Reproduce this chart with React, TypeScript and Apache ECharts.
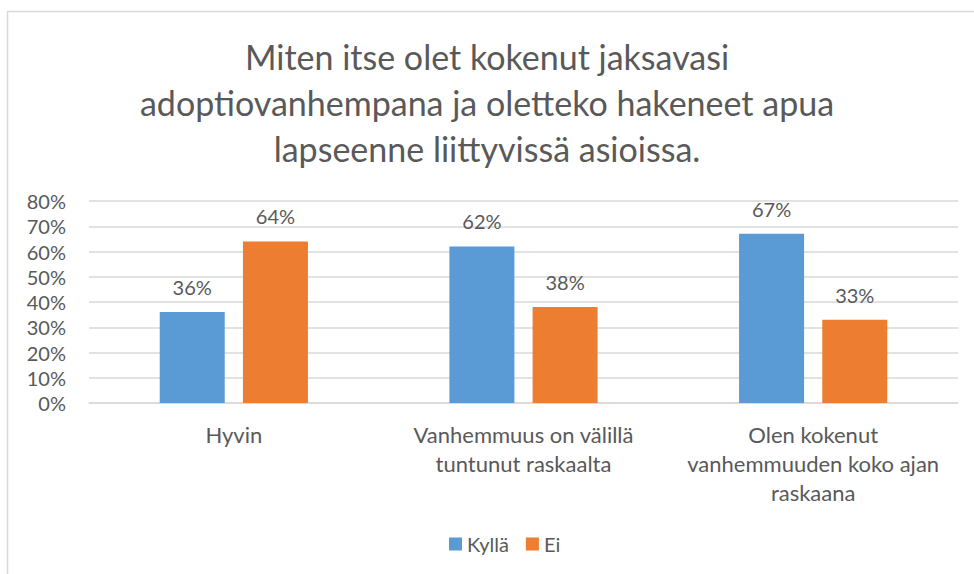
import React, { useEffect, useRef } from "react";
import * as echarts from "echarts";

const categories = [
  "Hyvin",
  "Vanhemmuus on välillä\ntuntunut raskaalta",
  "Olen kokenut\nvanhemmuuden koko ajan\nraskaana",
];
const kyllaValues = [36, 62, 67];
const eiValues = [64, 38, 33];
const seriesNames = ["Kyllä", "Ei"];
const titleText =
  "Miten itse olet kokenut jaksavasi\nadoptiovanhempana ja oletteko hakeneet apua\nlapseenne liittyvissä asioissa.";

const FONT = "Lato, 'Open Sans', sans-serif";
const TEXT = "#595959";

export default function App() {
  const ref = useRef<HTMLDivElement>(null);
  useEffect(() => {
    if (!ref.current) return;
    const chart = echarts.init(ref.current, null, { renderer: "svg" });
    const label = {
      show: true,
      position: "top" as const,
      distance: 15,
      formatter: "{c}%",
      color: TEXT,
      fontSize: 20,
      fontFamily: FONT,
    };
    chart.setOption({
      animation: false,
      backgroundColor: "#ffffff",
      textStyle: { fontFamily: FONT },
      graphic: [
        {
          type: "rect",
          shape: { x: 7.5, y: 11.5, width: 1000, height: 600 },
          style: { fill: "none", stroke: "#d9d9d9", lineWidth: 1.5 },
          silent: true,
          z: -1,
        },
      ],
      title: {
        text: titleText,
        left: "center",
        top: 28,
        textStyle: {
          color: TEXT,
          fontSize: 34,
          fontWeight: "normal",
          fontFamily: FONT,
          lineHeight: 46,
        },
      },
      legend: {
        data: seriesNames,
        bottom: 15,
        left: 444,
        icon: "rect",
        itemWidth: 13,
        itemHeight: 13,
        itemGap: 17,
        textStyle: { color: TEXT, fontSize: 20, fontFamily: FONT },
      },
      grid: { left: 89, right: 16, top: 201, bottom: 171, containLabel: false },
      xAxis: {
        type: "category",
        data: categories,
        axisLine: { show: true, lineStyle: { color: "#d9d9d9", width: 1.5 } },
        axisTick: { show: false },
        axisLabel: {
          color: TEXT,
          fontSize: 22,
          fontFamily: FONT,
          lineHeight: 29,
          margin: 17,
          interval: 0,
        },
      },
      yAxis: {
        type: "value",
        min: 0,
        max: 80,
        interval: 10,
        axisLine: { show: false },
        axisTick: { show: false },
        axisLabel: {
          formatter: "{value}%",
          color: TEXT,
          fontSize: 20,
          fontFamily: FONT,
          margin: 23,
        },
        splitLine: { lineStyle: { color: "#d9d9d9", width: 1.5 } },
      },
      series: [
        {
          name: seriesNames[0],
          type: "bar",
          data: kyllaValues,
          barWidth: 65,
          barGap: "28%",
          itemStyle: { color: "#5b9bd5" },
          label,
        },
        {
          name: seriesNames[1],
          type: "bar",
          data: eiValues,
          barWidth: 65,
          barGap: "28%",
          itemStyle: { color: "#ed7d31" },
          label,
        },
      ],
    });
    return () => chart.dispose();
  }, []);
  return (
    <div
      ref={ref}
      style={{ position: "fixed", left: 0, top: 0, width: 974, height: 574 }}
    />
  );
}
